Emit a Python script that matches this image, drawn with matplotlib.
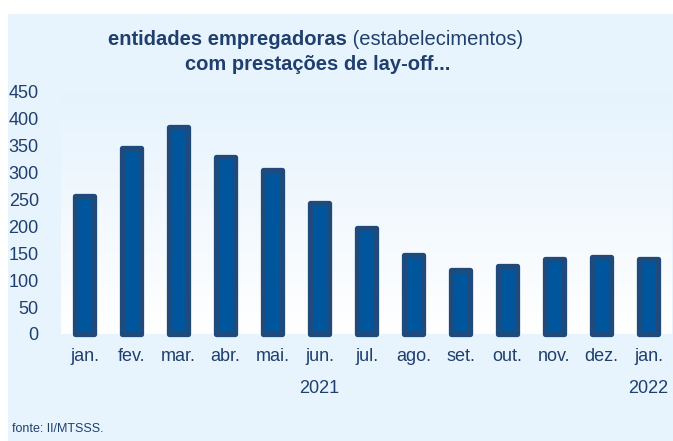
import matplotlib

matplotlib.use("Agg")
import matplotlib.pyplot as plt  # noqa: E402
import numpy as np  # noqa: E402
from matplotlib.colors import LinearSegmentedColormap  # noqa: E402
from matplotlib.patches import Rectangle  # noqa: E402

months = ["jan.", "fev.", "mar.", "abr.", "mai.", "jun.", "jul.",
          "ago.", "set.", "out.", "nov.", "dez.", "jan."]
values = [256, 346, 384, 330, 305, 243, 198, 146, 119, 127, 139, 143, 139]
years = ["2021", "2022"]
year_pos = [5, 12]
yticks = [0, 50, 100, 150, 200, 250, 300, 350, 400, 450]

NAVY = "#1f3f6e"
BAR_FACE = "#00569c"
BAR_EDGE = "#1f4a7c"
PANEL = "#e8f4fd"

plt.rcParams["font.family"] = ["Liberation Sans", "DejaVu Sans"]

fig = plt.figure(figsize=(6.73, 4.41), dpi=100)
fig.patch.set_facecolor("white")
fig.patches.append(Rectangle((8 / 673, 0), 1, 1 - 14 / 441, transform=fig.transFigure,
                             facecolor=PANEL, edgecolor="none", zorder=-5))

ax = fig.add_axes([61 / 673, 1 - 334 / 441, 611 / 673, 242 / 441])
ax.set_zorder(2)
ax.set_facecolor("none")
x = np.arange(len(months))
ax.set_xlim(-0.5, len(months) - 0.5)
ax.set_ylim(0, 450)

# vertical gradient behind the bars
grad = np.linspace(0, 1, 256).reshape(-1, 1)
cmap = LinearSegmentedColormap.from_list("bg", ["#ffffff", "#e6f3fd"])
ax.imshow(grad, aspect="auto", cmap=cmap, extent=[-0.5, len(months) - 0.5, 0, 450],
          origin="lower", zorder=0)

bars = ax.bar(x, values, width=0.40, color=BAR_FACE, edgecolor=BAR_EDGE,
              linewidth=3.8, zorder=2)
for b in bars:
    b.set_joinstyle("round")
    b.set_clip_on(False)

ax.set_xticks(x)
ax.set_xticklabels(months, fontsize=13, color=NAVY)
ax.set_yticks(yticks)
ax.set_yticklabels([str(v) for v in yticks], fontsize=13, color=NAVY)
ax.tick_params(length=0, pad=10)
ax.tick_params(axis="y", pad=16)
for s in ax.spines.values():
    s.set_visible(False)

for yr, p in zip(years, year_pos):
    ax.text(p, -0.225, yr, transform=ax.get_xaxis_transform(), ha="center",
            va="center", fontsize=13, color=NAVY)

fig.text(347 / 673, 1 - 45 / 441, "entidades empregadoras", fontsize=14.5,
         fontweight="bold", color=NAVY, ha="right", va="baseline")
fig.text(347 / 673, 1 - 45 / 441, " (estabelecimentos)", fontsize=14.5,
         color=NAVY, ha="left", va="baseline")
fig.text(318 / 673, 1 - 70 / 441, "com prestações de lay-off...", fontsize=14.5,
         fontweight="bold", color=NAVY, ha="center", va="baseline")
fig.text(12 / 673, 1 - 429 / 441, "fonte: II/MTSSS.", fontsize=9,
         color=NAVY, ha="left", va="center")

fig.savefig("out.png", dpi=100)
